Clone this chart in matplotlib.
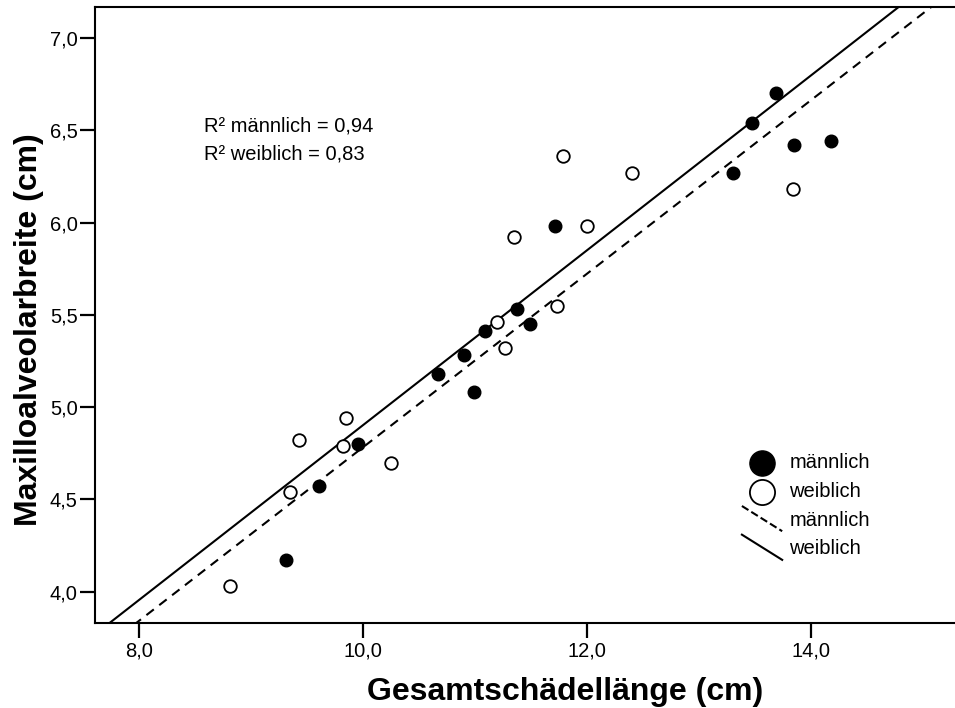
import matplotlib
matplotlib.use("Agg")
import numpy as np
import matplotlib.pyplot as plt
from matplotlib.lines import Line2D
from matplotlib.legend_handler import HandlerBase

plt.rcParams['font.family'] = ['Liberation Sans', 'DejaVu Sans']

# Gesamtschädellänge (x) und Maxilloalveolarbreite (y), in cm
maennlich_x = [9.31, 9.61, 9.96, 10.67, 10.90, 10.99, 11.09, 11.38, 11.49, 11.72,
               13.31, 13.48, 13.69, 13.85, 14.18]
maennlich_y = [4.17, 4.57, 4.80, 5.18, 5.28, 5.08, 5.41, 5.53, 5.45, 5.98,
               6.27, 6.54, 6.70, 6.42, 6.44]
weiblich_x = [8.81, 9.35, 9.43, 9.82, 9.85, 10.25, 11.20, 11.27, 11.35, 11.73,
              11.79, 12.00, 12.40, 13.84]
weiblich_y = [4.03, 4.54, 4.82, 4.79, 4.94, 4.70, 5.46, 5.32, 5.92, 5.55,
              6.36, 5.98, 6.27, 6.18]

# Regressionsgeraden (Steigung, Achsenabschnitt)
fit_maennlich = (0.470, 0.082)
fit_weiblich = (0.4735, 0.167)
r2_maennlich = "0,94"
r2_weiblich = "0,83"

xticks = [8.0, 10.0, 12.0, 14.0]
yticks = [4.0, 4.5, 5.0, 5.5, 6.0, 6.5, 7.0]


class DiagonalHandler(HandlerBase):
    # SPSS-artige schräge Linie in der Legende
    def create_artists(self, legend, orig_handle, xdescent, ydescent,
                       width, height, fontsize, trans):
        line = Line2D([-xdescent, -xdescent + width],
                      [-ydescent + height + 4, -ydescent - 4])
        line.set_color(orig_handle.get_color())
        line.set_linestyle(orig_handle.get_linestyle())
        line.set_linewidth(orig_handle.get_linewidth())
        line.set_transform(trans)
        return [line]


fig = plt.figure(figsize=(9.55, 7.08), dpi=100)
ax = fig.add_axes([0.0995, 0.1205, 0.9005, 0.8695])

xmin, xmax = 7.607, 15.29
ymin, ymax = 3.832, 7.168
ax.set_xlim(xmin, xmax)
ax.set_ylim(ymin, ymax)

xs = np.array([xmin, xmax])
l_m, = ax.plot(xs, fit_maennlich[0] * xs + fit_maennlich[1], color='black',
               lw=1.5, linestyle=(0, (4.5, 3.3)), zorder=2)
l_w, = ax.plot(xs, fit_weiblich[0] * xs + fit_weiblich[1], color='black',
               lw=1.5, linestyle='-', zorder=2)

p_m = ax.scatter(maennlich_x, maennlich_y, s=82, color='black', zorder=3)
p_w = ax.scatter(weiblich_x, weiblich_y, s=82, facecolor='white',
                 edgecolor='black', linewidth=1.3, zorder=3)

ax.text(0.127, 0.7987, "R² männlich = " + r2_maennlich, transform=ax.transAxes,
        fontsize=14.5, va='baseline')
ax.text(0.127, 0.7532, "R² weiblich = " + r2_weiblich, transform=ax.transAxes,
        fontsize=14.5, va='baseline')

leg = ax.legend([p_m, p_w, l_m, l_w],
                ['männlich', 'weiblich', 'männlich', 'weiblich'],
                handler_map={l_m: DiagonalHandler(), l_w: DiagonalHandler()},
                loc='upper left', bbox_to_anchor=(0.7405, 0.2915),
                frameon=False, fontsize=14.5, markerscale=2.0,
                handlelength=2.0, handletextpad=0.35, labelspacing=0.48,
                borderpad=0)

ax.set_xticks(xticks)
ax.set_xticklabels([f"{v:.1f}".replace('.', ',') for v in xticks])
ax.set_yticks(yticks)
ax.set_yticklabels([f"{v:.1f}".replace('.', ',') for v in yticks])
ax.tick_params(direction='out', length=10.5, width=1.6, labelsize=14.5)
ax.tick_params(axis='x', pad=3)
ax.tick_params(axis='y', pad=2)

for side in ['left', 'bottom', 'top']:
    ax.spines[side].set_linewidth(1.5)
ax.spines['right'].set_visible(False)

ax.set_xlabel('Gesamtschädellänge (cm)', fontsize=23, fontweight='bold',
              labelpad=12, x=0.5465)
ax.set_ylabel('Maxilloalveolarbreite (cm)', fontsize=23, fontweight='bold',
              labelpad=4.5, y=0.476)

fig.savefig('out.png', dpi=100)
